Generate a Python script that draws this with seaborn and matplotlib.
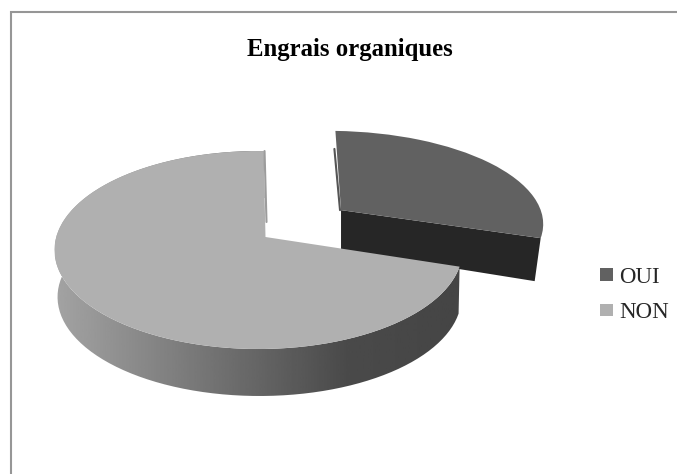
import numpy as np
import matplotlib
matplotlib.use('Agg')
import matplotlib.pyplot as plt
from matplotlib.patches import PathPatch, Patch
from matplotlib.path import Path
import seaborn as sns

labels = ['OUI', 'NON']
values = [30, 70]
title = 'Engrais organiques'

face_colors = ['#616161', '#b0b0b0']
dark_side = '#262626'

sns.set_theme(style='white')
plt.rcParams['font.family'] = ['Liberation Serif', 'DejaVu Serif']

fig, ax = plt.subplots(figsize=(6.77, 4.74), dpi=100)
ax.set_position([0, 0, 1, 1])

# pie in unit coordinates, the wedges get re-projected below to fake the tilt
wedges, _ = ax.pie(values, labels=None, startangle=90.5, counterclock=False,
                   explode=[0.49, 0])
ax.set_aspect('auto')
ax.set_xlim(0, 677)
ax.set_ylim(474, 0)
ax.axis('off')

# ellipse of the big slice and where the apex sits inside it
cx, cy, rx, ry = 258.5, 250, 204, 99
apex = np.array([7 / 204, 13 / 99])


def project(p):
    p = np.atleast_2d(p)
    d = p @ apex
    n = apex @ apex
    par = (d / n)[:, None] * apex
    q = (par + apex + np.sqrt(1 - n) * (p - par)) / (1 + d)[:, None]
    return np.column_stack([cx + rx * q[:, 0], cy - ry * q[:, 1]])


def arc(w, n=200):
    t = np.radians(np.linspace(w.theta1, w.theta2, n))
    return w.center + w.r * np.column_stack([np.cos(t), np.sin(t)])


# exploded OUI slice: front wall first, then top face
oui, non = wedges
oui_apex = project(oui.center)[0]


def widen(v):
    # the slice is a bit wider and leans right compared to the plain projection
    v = v.copy()
    v[:, 0] = oui_apex[0] + (v[:, 0] - oui_apex[0]) * 1.09 + (oui_apex[1] - v[:, 1]) * 0.07
    return v


oui_path = Path(widen(project(oui.get_path().vertices)), oui.get_path().codes)
oui_top = widen(project(arc(oui)))
depth_oui = 41
tip = oui_top[0]
top_pt = oui_top[-1]
tip_low = tip + [-6, depth_oui + 2]
apex_low = oui_apex + [0, depth_oui - 1]
ax.fill([oui_apex[0], tip[0], tip_low[0], apex_low[0]],
        [oui_apex[1], tip[1], tip_low[1], apex_low[1]], color=dark_side, lw=0, zorder=2)
ax.plot([top_pt[0] - 1, oui_apex[0] - 1], [top_pt[1] + 18, oui_apex[1]], color='#555555', lw=1.5, zorder=2)
ax.add_patch(PathPatch(oui_path, fc=face_colors[0], ec='none', zorder=3))

# big NON slice: gradient side wall, clipped to the extruded arc
non_top = project(arc(non))
non_path = Path(project(non.get_path().vertices), non.get_path().codes)
inner = project(non.center)[0]
depth = 47
low = non_top + [0, depth]
low[:, 0] = cx + 1 + (low[:, 0] - cx) * 0.99
wall = Path(np.vstack([non_top, low[::-1], non_top[:1]]))
wall_patch = PathPatch(wall, fc='none', ec='none', transform=ax.transData)
ax.add_patch(wall_patch)
grad = np.interp(np.linspace(0, 1, 256), [0, 0.45, 0.72, 1], [0.64, 0.42, 0.29, 0.27])
im = ax.imshow(grad[None, :], cmap='gray', vmin=0, vmax=1, aspect='auto', zorder=4,
               extent=[non_top[:, 0].min(), non_top[:, 0].max(), 474, 0])
im.set_clip_path(wall_patch)
ax.set_aspect('auto')
ax.set_xlim(0, 677)
ax.set_ylim(474, 0)

first = non_top[0]
ax.plot([first[0] + 1, inner[0] + 1], [first[1], inner[1] - 15], color='#9c9c9c', lw=1.5, zorder=4)
ax.add_patch(PathPatch(non_path, fc=face_colors[1], ec='none', zorder=5))
oui.remove()
non.remove()

ax.text(350, 49.5, title, ha='center', va='center', fontsize=17.8, fontweight='bold', color='black')

handles = [Patch(fc=c, ec='none') for c in face_colors]
ax.legend(handles, labels, loc='center left', bbox_to_anchor=(591 / 677, 1 - 295 / 474),
          frameon=False, fontsize=16.5, handlelength=0.57, handleheight=0.48,
          handletextpad=0.26, labelspacing=0.62, borderpad=0, borderaxespad=0.4)

# chart frame, only top and left show in the crop
ax.plot([11, 11, 677], [474, 12, 12], color='#969696', lw=1.5, zorder=1, solid_joinstyle='miter')

fig.savefig('out.png', dpi=100)
